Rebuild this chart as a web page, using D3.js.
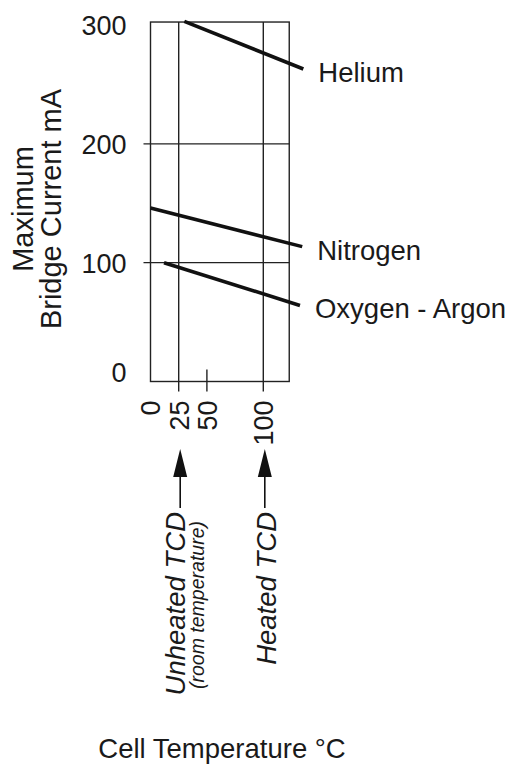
<!DOCTYPE html>
<html>
<head>
<meta charset="utf-8">
<script src="https://cdn.jsdelivr.net/npm/d3@7"></script>
<style>
  body { margin: 0; background: white; }
  text { font-family: "Liberation Sans", Arial, sans-serif; fill: #1a1a1a; }
</style>
</head>
<body>
<div id="chart"></div>
<script>
const width = 517, height = 765;

// [cell temperature °C, max bridge current mA]
const gasNames = ["Helium", "Nitrogen", "Oxygen - Argon"];
const heliumLine = [[30, 303], [135.5, 263]];
const nitrogenLine = [[0, 146], [134.5, 113.5]];
const oxygenArgonLine = [[12, 100], [132.5, 64]];

const tempTicks = [0, 25, 50, 100];
const gridTemps = [25, 100];
const minorTemps = [50];
const currentTicks = [0, 100, 200, 300];
const gridCurrents = [100, 200];

const tcdTemps = [25, 100];
const tcdLabels = ["Unheated TCD", "Heated TCD"];
const tcdNotes = ["(room temperature)", ""];

const x = d3.scaleLinear().domain([0, 100]).range([150.5, 263.3]);
const y = d3.scaleLinear().domain([0, 300]).range([381.5, 25]);
const xEnd = 123, yEnd = 302.5;   // frame edges, a bit past the last ticks

const svg = d3.select("#chart")
  .append("svg")
  .attr("width", width)
  .attr("height", height)
  .style("background-color", "white");

const gridColor = "#222";

// frame
svg.append("rect")
  .attr("x", x(0))
  .attr("y", y(yEnd))
  .attr("width", x(xEnd) - x(0))
  .attr("height", y(0) - y(yEnd))
  .attr("fill", "none")
  .attr("stroke", gridColor)
  .attr("stroke-width", 1.4);

svg.selectAll("line.hgrid")
  .data(gridCurrents)
  .enter()
  .append("line")
    .attr("class", "hgrid")
    .attr("x1", x(0) - 7)
    .attr("x2", x(xEnd))
    .attr("y1", d => y(d))
    .attr("y2", d => y(d))
    .attr("stroke", gridColor)
    .attr("stroke-width", 1.4);

svg.selectAll("line.vgrid")
  .data(gridTemps)
  .enter()
  .append("line")
    .attr("class", "vgrid")
    .attr("x1", d => x(d))
    .attr("x2", d => x(d))
    .attr("y1", y(yEnd))
    .attr("y2", y(0) + 10)
    .attr("stroke", gridColor)
    .attr("stroke-width", 1.4);

svg.selectAll("line.minor")
  .data(minorTemps)
  .enter()
  .append("line")
    .attr("class", "minor")
    .attr("x1", d => x(d))
    .attr("x2", d => x(d))
    .attr("y1", y(0) - 12)
    .attr("y2", y(0) + 10)
    .attr("stroke", gridColor)
    .attr("stroke-width", 1.4);

// axes, labels only
const yAxis = svg.append("g")
  .attr("transform", `translate(${x(0)},0)`)
  .call(d3.axisLeft(y).tickValues(currentTicks).tickSize(0).tickPadding(24))
  .attr("font-family", '"Liberation Sans", Arial, sans-serif')
  .attr("font-size", 27)
  .attr("color", "#1a1a1a");
yAxis.select(".domain").remove();
yAxis.selectAll(".tick text")
  .attr("dy", d => d === 0 ? "0em" : "0.35em");

const xAxis = svg.append("g")
  .attr("transform", `translate(0,${y(0)})`)
  .call(d3.axisBottom(x).tickValues(tempTicks).tickSize(0))
  .attr("font-family", '"Liberation Sans", Arial, sans-serif')
  .attr("font-size", 27)
  .attr("color", "#1a1a1a");
xAxis.select(".domain").remove();
xAxis.selectAll(".tick text")
  .attr("transform", "rotate(-90)")
  .attr("text-anchor", "end")
  .attr("x", -19)
  .attr("y", 0)
  .attr("dy", "0.35em");

// gas lines
const gasLines = [heliumLine, nitrogenLine, oxygenArgonLine];
const line = d3.line().x(d => x(d[0])).y(d => y(d[1]));

svg.selectAll("path.gas")
  .data(gasLines)
  .enter()
  .append("path")
    .attr("class", "gas")
    .attr("d", line)
    .attr("fill", "none")
    .attr("stroke", "#111")
    .attr("stroke-width", 3.6);

svg.selectAll("text.gas")
  .data(gasLines)
  .enter()
  .append("text")
    .attr("class", "gas")
    .attr("x", d => x(d[1][0]) + 15)
    .attr("y", d => y(d[1][1]) + 13)
    .attr("font-size", 27.5)
    .text((d, i) => gasNames[i]);

// TCD arrows and notes
const arrowTip = 449, arrowBase = 477, arrowTail = 508;

const tcd = svg.selectAll("g.tcd")
  .data(tcdTemps)
  .enter()
  .append("g")
    .attr("class", "tcd")
    .attr("transform", d => `translate(${x(d) + 1.5},0)`);

tcd.append("path")
  .attr("d", `M0,${arrowTip}L-7,${arrowBase}L7,${arrowBase}Z`)
  .attr("fill", "#111");

tcd.append("line")
  .attr("y1", arrowBase - 1)
  .attr("y2", arrowTail)
  .attr("stroke", "#111")
  .attr("stroke-width", 1.6);

tcd.append("text")
  .attr("transform", (d, i) => `translate(${i === 0 ? 5 : 11},512) rotate(-90)`)
  .attr("text-anchor", "end")
  .attr("font-size", 27.5)
  .attr("font-style", "italic")
  .text((d, i) => tcdLabels[i]);

tcd.filter((d, i) => tcdNotes[i] !== "")
  .append("text")
    .attr("transform", "translate(24,605) rotate(-90)")
    .attr("text-anchor", "middle")
    .attr("font-size", 19.5)
    .attr("font-style", "italic")
    .text((d, i) => tcdNotes[i]);

// axis titles
svg.selectAll("text.ytitle")
  .data(["Maximum", "Bridge Current mA"])
  .enter()
  .append("text")
    .attr("class", "ytitle")
    .attr("transform", (d, i) => `translate(${33 + i * 28},209) rotate(-90)`)
    .attr("text-anchor", "middle")
    .attr("font-size", 29)
    .text(d => d);

svg.append("text")
  .attr("x", 222)
  .attr("y", 758)
  .attr("text-anchor", "middle")
  .attr("font-size", 27.5)
  .text("Cell Temperature °C");
</script>
</body>
</html>
